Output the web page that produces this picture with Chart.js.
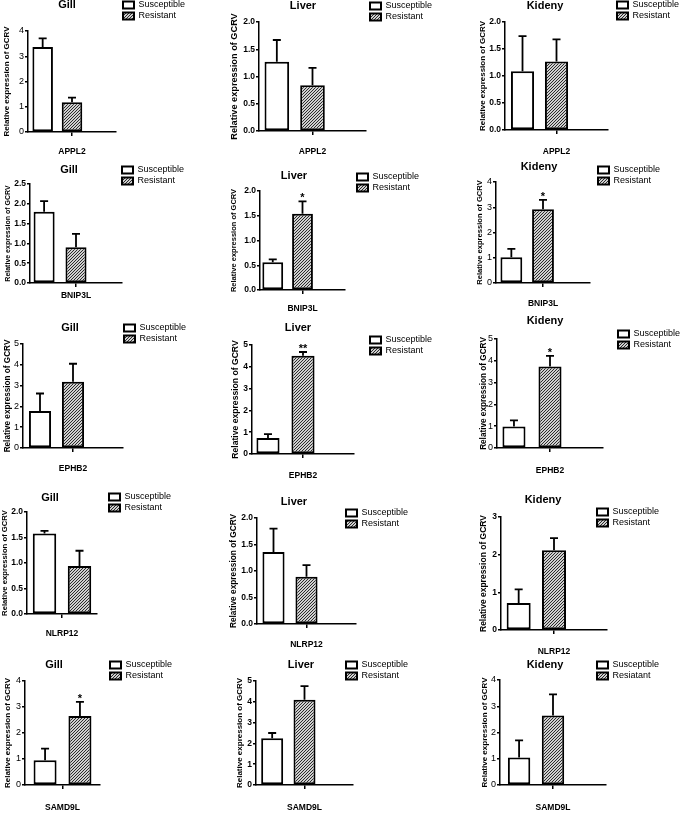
<!DOCTYPE html>
<html>
<head>
<meta charset="utf-8">
<script src="https://cdn.jsdelivr.net/npm/chart.js@4.4.1/dist/chart.umd.min.js"></script>
<style>
  html, body { margin: 0; padding: 0; background: #fff; }
  #fig { position: relative; width: 685px; height: 818px; overflow: hidden; }
  #fig canvas { position: absolute; }
</style>
</head>
<body>
<div id="fig"></div>
<script>
// rows = genes, columns = tissues
const tissues = ['Gill', 'Liver', 'Kideny'];
const genes = ['APPL2', 'BNIP3L', 'EPHB2', 'NLRP12', 'SAMD9L'];
const susceptibleName = 'Susceptible';
const resistantNames = [
  ['Resistant', 'Resistant', 'Resistant'],
  ['Resistant', 'Resistant', 'Resistant'],
  ['Resistant', 'Resistant', 'Resistant'],
  ['Resistant', 'Resistant', 'Resistant'],
  ['Resistant', 'Resistant', 'Resiatant']
];
const yAxisTitle = 'Relative expression of GCRV';

const susMean = [[3.37, 1.27, 1.09], [1.80, 0.56, 1.02], [1.78, 0.73, 0.99], [1.58, 1.36, 0.72], [0.95, 2.25, 1.05]];
const susErr  = [[0.34, 0.40, 0.65], [0.27, 0.06, 0.33], [0.84, 0.18, 0.28], [0.05, 0.44, 0.36], [0.45, 0.25, 0.65]];
const resMean = [[1.18, 0.84, 1.27], [0.90, 1.54, 2.92], [3.18, 4.51, 3.74], [0.94, 0.89, 2.12], [2.65, 4.10, 2.65]];
const resErr  = [[0.18, 0.32, 0.41], [0.34, 0.25, 0.37], [0.87, 0.17, 0.49], [0.30, 0.22, 0.32], [0.55, 0.65, 0.80]];
const resStars = [['', '', ''], ['', '*', '*'], ['', '**', '*'], ['', '', ''], ['*', '', '']];

const yMax  = [[4, 2, 2], [2.5, 2, 4], [5, 5, 5], [2, 2, 3], [4, 5, 4]];
const yStep = [[1, 0.5, 0.5], [0.5, 0.5, 1], [1, 1, 1], [0.5, 0.5, 1], [1, 1, 1]];

/*------ panel placement on the page (px) ------*/
// ax/ar/at/ab = plot box, tx/ty = title centre, lx/ly = legend box left / first row centre,
// yx = y title centre, lab = gene label centre
const panels = [
  {ax: 28, ar: 116, at: 31, ab: 132, tx: 67, ty: 5, lx: 123, ly: 5, yx: 7, lab: 152, slots: 3, cp: 1.0, bp: 0.7, bold: false, ys: 8},
  {ax: 259, ar: 366, at: 22, ab: 131, tx: 303, ty: 6, lx: 370, ly: 6, yx: 235, lab: 152, slots: 3, cp: 1.0, bp: 0.69, bold: true, ys: 9.2},
  {ax: 505, ar: 608, at: 22, ab: 130, tx: 545, ty: 6, lx: 617, ly: 5, yx: 483, lab: 152, slots: 3, cp: 0.99, bp: 0.68, bold: true, ys: 8},
  {ax: 30, ar: 122, at: 184, ab: 283, tx: 69, ty: 170, lx: 122, ly: 170, yx: 8, lab: 296, slots: 3, cp: 1.04, bp: 0.66, bold: true, ys: 7},
  {ax: 260, ar: 345, at: 191, ab: 290, tx: 294, ty: 176, lx: 357, ly: 177, yx: 233, lab: 309, slots: 3, cp: 1.05, bp: 0.7, bold: true, ys: 7.5},
  {ax: 496, ar: 590, at: 182, ab: 283, tx: 539, ty: 167, lx: 598, ly: 170, yx: 480, lab: 304, slots: 3, cp: 1.01, bp: 0.69, bold: false, ys: 7.6},
  {ax: 23, ar: 123, at: 344, ab: 448, tx: 70, ty: 328, lx: 124, ly: 328, yx: 8, lab: 469, slots: 3, cp: 0.99, bp: 0.67, bold: false, ys: 8.2},
  {ax: 252, ar: 354, at: 345, ab: 454, tx: 298, ty: 328, lx: 370, ly: 340, yx: 235, lab: 476, slots: 3, cp: 1.03, bp: 0.66, bold: true, ys: 8.6},
  {ax: 497, ar: 603, at: 339, ab: 448, tx: 545, ty: 321, lx: 618, ly: 334, yx: 484, lab: 471, slots: 3, cp: 1.02, bp: 0.64, bold: false, ys: 8.2},
  {ax: 27, ar: 97, at: 512, ab: 614, tx: 50, ty: 498, lx: 109, ly: 497, yx: 5, lab: 634, slots: 2, cp: 1.0, bp: 0.67, bold: true, ys: 7.7},
  {ax: 257, ar: 356, at: 518, ab: 624, tx: 294, ty: 502, lx: 346, ly: 513, yx: 234, lab: 645, slots: 3, cp: 1.0, bp: 0.67, bold: true, ys: 8.3},
  {ax: 501, ar: 607, at: 517, ab: 630, tx: 543, ty: 500, lx: 597, ly: 512, yx: 484, lab: 652, slots: 3, cp: 1.0, bp: 0.68, bold: true, ys: 8.5},
  {ax: 25, ar: 100, at: 681, ab: 785, tx: 54, ty: 665, lx: 110, ly: 665, yx: 8, lab: 808, slots: 2, cp: 0.93, bp: 0.66, bold: false, ys: 8},
  {ax: 256, ar: 353, at: 681, ab: 785, tx: 301, ty: 665, lx: 346, ly: 665, yx: 240, lab: 808, slots: 3, cp: 1.0, bp: 0.68, bold: true, ys: 8},
  {ax: 500, ar: 606, at: 680, ab: 785, tx: 545, ty: 665, lx: 597, ly: 665, yx: 485, lab: 808, slots: 3, cp: 0.96, bp: 0.66, bold: false, ys: 8}
];

Chart.defaults.font.family = 'Arial, "Liberation Sans", sans-serif';
Chart.defaults.color = '#000';

function hatch(ctx) {
  var c = document.createElement('canvas');
  c.width = 3; c.height = 3;
  var g = c.getContext('2d');
  g.fillStyle = '#cfcfcf';
  g.fillRect(0, 0, 3, 3);
  g.fillStyle = '#2b2b2b';
  for (var i = 0; i < 3; i++) g.fillRect(i, 2 - i, 1, 1);
  return ctx.createPattern(c, 'repeat');
}

var fig = document.getElementById('fig');

panels.forEach(function (L, k) {
  var r = Math.floor(k / 3), c = k % 3;
  var ytLine = L.ys * 1.2;
  var cl = Math.round(L.yx - ytLine / 2 - 1);
  var ct = Math.round(L.ty - 8);
  var cr = Math.max(L.ar + 2, L.lx + 80);
  var xH = L.lab - L.ab + 10;
  var cb = L.ab + xH;

  var canvas = document.createElement('canvas');
  canvas.width = cr - cl;
  canvas.height = cb - ct;
  canvas.style.left = cl + 'px';
  canvas.style.top = ct + 'px';
  fig.appendChild(canvas);
  var ctx = canvas.getContext('2d');

  var means = [susMean[r][c], resMean[r][c]];
  var errs = [susErr[r][c], resErr[r][c]];
  var stars = ['', resStars[r][c]];

  var datasets = [
    {label: susceptibleName, data: [means[0]], backgroundColor: '#fff'},
    {label: resistantNames[r][c], data: [means[1]], backgroundColor: hatch(ctx)}
  ];
  if (L.slots === 3) datasets.push({label: '', data: [null], backgroundColor: '#fff'});
  datasets.forEach(function (d) {
    d.borderColor = '#000';
    d.borderWidth = 2;
    d.borderSkipped = false;
    d.categoryPercentage = L.cp;
    d.barPercentage = L.bp;
  });

  // error bars + stars
  var errorBars = {
    id: 'errorBars',
    afterDatasetsDraw: function (chart) {
      var g = chart.ctx, y = chart.scales.y;
      g.save();
      g.strokeStyle = '#000';
      g.lineWidth = 1.8;
      for (var i = 0; i < 2; i++) {
        var bar = chart.getDatasetMeta(i).data[0];
        var top = y.getPixelForValue(means[i] + errs[i]);
        g.beginPath();
        g.moveTo(bar.x, bar.y);
        g.lineTo(bar.x, top);
        g.moveTo(bar.x - 4, top);
        g.lineTo(bar.x + 4, top);
        g.stroke();
        if (stars[i]) {
          g.fillStyle = '#000';
          g.font = 'bold 11px Arial, "Liberation Sans", sans-serif';
          g.textAlign = 'center';
          g.textBaseline = 'alphabetic';
          g.fillText(stars[i], bar.x, top);
        }
      }
      g.restore();
    }
  };

  // put title and legend where the figure has them
  var placeBoxes = {
    id: 'placeBoxes',
    afterLayout: function (chart) {
      var t = chart.titleBlock;
      t.left = L.tx - cl - 50; t.right = t.left + 100;
      t.top = L.ty - ct - 6.6; t.bottom = t.top + 13.2;
      var lg = chart.legend;
      lg.left = L.lx - 2 - cl; lg.right = lg.left + 110;
      lg.top = L.ly - 6.5 - ct; lg.bottom = lg.top + 60;
    }
  };

  new Chart(ctx, {
    type: 'bar',
    data: {labels: [genes[r]], datasets: datasets},
    plugins: [errorBars, placeBoxes],
    options: {
      responsive: false,
      animation: false,
      events: [],
      layout: {padding: {left: 1, top: L.at - ct - 13.2, right: cr - L.ar, bottom: 0}},
      plugins: {
        title: {display: true, text: tissues[c], padding: 0, font: {size: 11, weight: 'bold'}, color: '#000'},
        legend: {
          position: 'chartArea',
          align: 'start',
          labels: {
            boxWidth: 11, boxHeight: 7, padding: 2, color: '#000',
            font: {size: 9},
            filter: function (item) { return item.datasetIndex < 2; }
          }
        },
        tooltip: {enabled: false}
      },
      scales: {
        x: {
          offset: true,
          grid: {display: true, drawOnChartArea: false, drawTicks: true, tickLength: 4, offset: false, color: '#000', lineWidth: 1.5},
          border: {display: true, color: '#000', width: 1.5},
          ticks: {padding: L.lab - L.ab - 4 - 5.1, font: {size: 8.5, weight: 'bold'}, color: '#000'},
          afterFit: function (s) { s.height = xH; }
        },
        y: {
          min: 0,
          max: yMax[r][c],
          grid: {display: true, drawOnChartArea: false, drawTicks: true, tickLength: 3, color: '#000', lineWidth: 1.5},
          border: {display: true, color: '#000', width: 1.5},
          ticks: {
            stepSize: yStep[r][c],
            padding: 1,
            color: '#000',
            font: L.bold ? {size: 8.5, weight: 'bold'} : {size: 9},
            callback: function (v) { return yStep[r][c] < 1 ? v.toFixed(1) : String(v); }
          },
          title: {display: true, text: yAxisTitle, padding: 0, color: '#000', font: {size: L.ys, weight: 'bold'}},
          afterFit: function (s) { s.width = L.ax - cl - 1; }
        }
      }
    }
  });
});
</script>
</body>
</html>
